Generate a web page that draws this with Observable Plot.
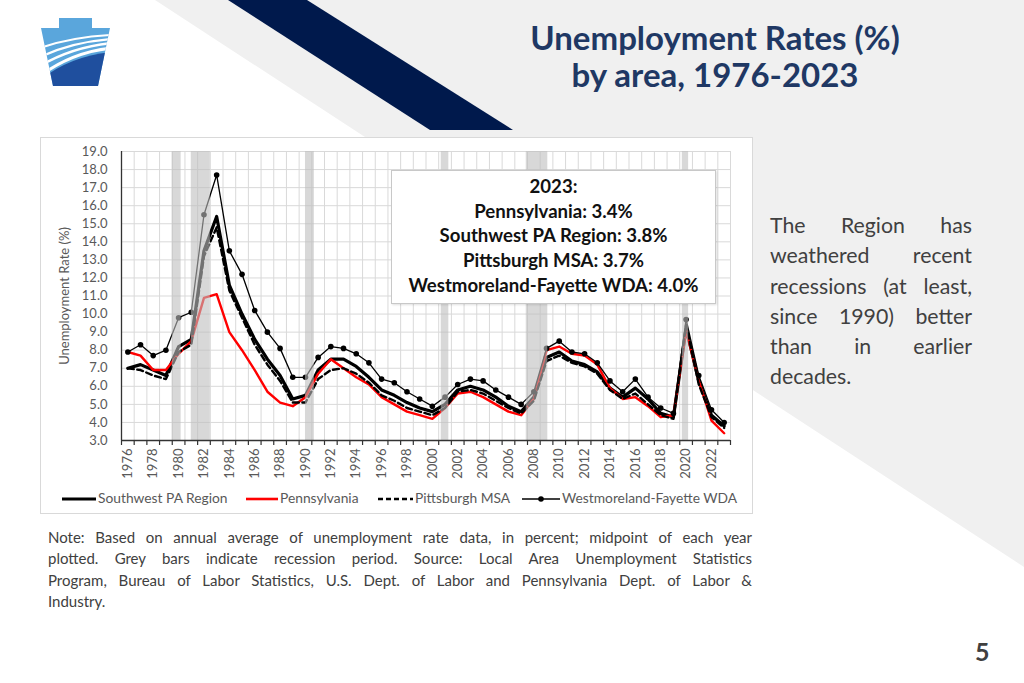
<!DOCTYPE html>
<html>
<head>
<meta charset="utf-8">
<script src="https://cdn.jsdelivr.net/npm/d3@7"></script>
<script src="https://cdn.jsdelivr.net/npm/@observablehq/plot@0.6"></script>
<style>
  html, body { margin: 0; padding: 0; }
  body { width: 1024px; height: 683px; position: relative; overflow: hidden; background: #fff; font-family: Lato, "Open Sans", sans-serif; }
  .abs { position: absolute; }
  #bg { left: 0; top: 0; }
  #title { left: 465px; width: 500px; top: 19px; text-align: center; color: #1f3864; font-weight: bold; font-size: 33px; line-height: 37px; }
  #box { left: 40px; top: 137px; width: 711px; height: 375px; background: #fff; border: 1px solid #d9d9d9; }
  #chart { left: 40px; top: 137px; }
  .jl { display: block; text-align: justify; text-align-last: justify; white-space: nowrap; }
  .ll { display: block; text-align: left; white-space: nowrap; }
  #side { left: 770px; top: 210px; width: 202px; font-size: 21.3px; line-height: 30.3px; color: #404040; }
  #note { left: 48px; top: 527px; width: 704px; font-size: 15px; line-height: 21.3px; color: #404040; }
  #pnum { left: 975px; top: 636px; font-size: 25px; font-weight: bold; color: #404040; }
  #anno { left: 391px; top: 170px; width: 325px; height: 134px; background: #fff; border: 1px solid #c8c8c8; box-shadow: 1px 1px 2px rgba(0,0,0,0.12); text-align: center; font-weight: bold; font-size: 18.6px; line-height: 24.7px; color: #111; padding-top: 3px; box-sizing: border-box; }
  .leg { position: absolute; top: 489px; font-size: 13.8px; color: #595959; height: 18px; line-height: 18px; white-space: nowrap; }
  .leg svg { vertical-align: middle; margin-right: 2px; position: relative; top: -1px; }
</style>
</head>
<body>
<svg id="bg" class="abs" width="1024" height="683">
  <polygon points="155,0 1024,0 1024,567" fill="#f0f0f0"/>
  <polygon points="228,0 307,0 513,130 430,130" fill="#00194c"/>
  <g id="logo">
    <defs>
      <clipPath id="ks">
        <path d="M59,18 L92,18 L92,28 L110,28 L98,86 L53,86 L41,28 L59,28 Z"/>
      </clipPath>
    </defs>
    <g clip-path="url(#ks)">
      <rect x="38" y="15" width="76" height="75" fill="#5aa6dc"/>
      <path d="M40,90 L40,80 Q70,56 112,52 L112,90 Z" fill="#1f4f9e"/>
      <path d="M40,76 Q72,52 112,48" stroke="#fff" stroke-width="3" fill="none"/>
      <path d="M40,66 Q72,47 112,43" stroke="#fff" stroke-width="2.6" fill="none"/>
      <path d="M40,57 Q72,42 112,39" stroke="#fff" stroke-width="2.3" fill="none"/>
      <path d="M40,48 Q72,37 112,35" stroke="#fff" stroke-width="2" fill="none"/>
    </g>
  </g>
</svg>

<div id="title" class="abs">Unemployment Rates (%)<br>by area, 1976-2023</div>
<div id="box" class="abs"></div>
<div id="chart" class="abs"></div>

<div id="anno" class="abs">
  <div>2023:</div>
  <div>Pennsylvania: 3.4%</div>
  <div>Southwest PA Region: 3.8%</div>
  <div>Pittsburgh MSA: 3.7%</div>
  <div>Westmoreland-Fayette WDA: 4.0%</div>
</div>

<div id="legend"></div>

<div id="side" class="abs">
  <span class="jl">The Region has</span>
  <span class="jl">weathered recent</span>
  <span class="jl">recessions (at least,</span>
  <span class="jl">since 1990) better</span>
  <span class="jl">than in earlier</span>
  <span class="ll">decades.</span>
</div>

<div id="note" class="abs">
  <span class="jl">Note: Based on annual average of unemployment rate data, in percent; midpoint of each year</span>
  <span class="jl">plotted. Grey bars indicate recession period. Source: Local Area Unemployment Statistics</span>
  <span class="jl">Program, Bureau of Labor Statistics, U.S. Dept. of Labor and Pennsylvania Dept. of Labor &amp;</span>
  <span class="ll">Industry.</span>
</div>

<div id="pnum" class="abs">5</div>

<script>
const years = [1976,1977,1978,1979,1980,1981,1982,1983,1984,1985,1986,1987,1988,1989,1990,1991,1992,1993,1994,1995,1996,1997,1998,1999,2000,2001,2002,2003,2004,2005,2006,2007,2008,2009,2010,2011,2012,2013,2014,2015,2016,2017,2018,2019,2020,2021,2022,2023];

const southwestPA = [7.0,7.2,6.9,6.6,8.2,8.6,13.5,15.4,11.6,10.0,8.6,7.5,6.6,5.3,5.5,6.9,7.5,7.5,7.1,6.5,5.8,5.5,5.1,4.8,4.6,5.0,5.8,6.0,5.8,5.4,4.9,4.6,5.4,7.6,7.9,7.4,7.2,6.8,5.9,5.4,5.9,5.3,4.5,4.3,9.2,6.3,4.4,3.8];
const pennsylvania = [7.9,7.7,6.9,6.9,7.8,8.5,10.9,11.1,9.0,8.0,6.9,5.7,5.1,4.9,5.4,6.7,7.5,7.0,6.5,6.1,5.4,5.0,4.6,4.4,4.2,4.8,5.6,5.7,5.4,5.0,4.6,4.4,5.3,8.0,8.2,7.8,7.7,7.2,5.9,5.3,5.4,4.9,4.3,4.4,9.1,6.3,4.1,3.4];
const pittsburghMSA = [7.0,6.9,6.6,6.4,7.9,8.3,13.2,14.8,11.3,9.8,8.3,7.2,6.3,5.1,5.1,6.4,6.9,7.0,6.7,6.2,5.5,5.2,4.8,4.6,4.4,4.8,5.7,5.8,5.6,5.2,4.8,4.5,5.2,7.4,7.7,7.3,7.1,6.7,5.8,5.3,5.6,5.0,4.4,4.2,9.4,6.1,4.3,3.7];
const westmorelandWDA = [7.9,8.3,7.7,8.0,9.8,10.1,15.5,17.7,13.5,12.2,10.2,9.0,8.1,6.5,6.5,7.6,8.2,8.1,7.8,7.3,6.4,6.2,5.7,5.3,4.9,5.4,6.1,6.4,6.3,5.8,5.4,5.0,5.7,8.1,8.5,7.9,7.8,7.3,6.3,5.7,6.4,5.4,4.8,4.5,9.7,6.6,4.7,4.0];

// recession periods as decimal dates
const recessionStart = [1980.0, 1981.5, 1990.5, 2001.2, 2007.9, 2020.2];
const recessionEnd   = [1980.7, 1983.0, 1991.2, 2001.8, 2009.6, 2020.7];

const yTicks = [3,4,5,6,7,8,9,10,11,12,13,14,15,16,17,18,19];
const xTickLabels = [1976,1978,1980,1982,1984,1986,1988,1990,1992,1994,1996,1998,2000,2002,2004,2006,2008,2010,2012,2014,2016,2018,2020,2022];

const seriesNames = ["Southwest PA Region", "Pennsylvania", "Pittsburgh MSA", "Westmoreland-Fayette WDA"];

const rows = (vals) => years.map((yr, i) => ({year: yr, value: vals[i]}));
const recessions = recessionStart.map((s, i) => ({x1: s - 0.5, x2: recessionEnd[i] - 0.5}));
const boundaries = years.map(y => y - 0.5).concat([years[years.length - 1] + 0.5]);

const plot = Plot.plot({
  width: 712,
  height: 350,
  marginLeft: 81,
  marginRight: 22,
  marginTop: 14,
  marginBottom: 47,
  style: {background: "transparent", fontFamily: "Lato, 'Open Sans', sans-serif", overflow: "visible"},
  x: {type: "linear", domain: [boundaries[0], boundaries[boundaries.length - 1]]},
  y: {domain: [3, 19]},
  marks: [
    Plot.gridY({ticks: yTicks, stroke: "#d9d9d9", strokeOpacity: 1, strokeWidth: 1}),
    Plot.gridX({ticks: boundaries, stroke: "#d9d9d9", strokeOpacity: 1, strokeWidth: 1}),
    Plot.line(rows(southwestPA), {x: "year", y: "value", stroke: "#000", strokeWidth: 3.2}),
    Plot.line(rows(pennsylvania), {x: "year", y: "value", stroke: "#ff0000", strokeWidth: 2.4}),
    Plot.line(rows(pittsburghMSA), {x: "year", y: "value", stroke: "#000", strokeWidth: 2.4, strokeDasharray: "6,3.5"}),
    Plot.line(rows(westmorelandWDA), {x: "year", y: "value", stroke: "#000", strokeWidth: 1.3}),
    Plot.dot(rows(westmorelandWDA), {x: "year", y: "value", fill: "#000", r: 2.8}),
    Plot.rect(recessions, {x1: "x1", x2: "x2", fill: "rgb(190,190,190)", fillOpacity: 0.6}),
    Plot.ruleY([3], {stroke: "#333", strokeWidth: 1.3}),
    Plot.ruleX([boundaries[0]], {stroke: "#333", strokeWidth: 1.3}),
    Plot.axisX({ticks: boundaries, tickSize: 5, tickFormat: () => "", stroke: "#333", strokeWidth: 1.2}),
    Plot.axisX({ticks: xTickLabels, tickSize: 0, tickPadding: 8, tickRotate: -90, tickFormat: d => String(d), fontSize: 13, fill: "#595959", label: null}),
    Plot.axisY({ticks: yTicks, tickSize: 0, tickPadding: 14, tickFormat: d3.format(".1f"), fontSize: 13, fill: "#595959",
      label: "Unemployment Rate (%)", labelAnchor: "center", labelArrow: "none", labelOffset: 62})
  ]
});
plot.style.fontSize = "13px";
document.getElementById("chart").appendChild(plot);

// legend
const legendItems = [
  {name: seriesNames[0], x: 62, w: 34, stroke: "#000", sw: 3.2, dash: null, dot: false},
  {name: seriesNames[1], x: 246, w: 32, stroke: "#ff0000", sw: 2.6, dash: null, dot: false},
  {name: seriesNames[2], x: 378, w: 35, stroke: "#000", sw: 2.4, dash: "5,3", dot: false},
  {name: seriesNames[3], x: 522, w: 38, stroke: "#000", sw: 1.3, dash: null, dot: true}
];
const leg = document.getElementById("legend");
legendItems.forEach(it => {
  const d = document.createElement("div");
  d.className = "leg";
  d.style.left = it.x + "px";
  d.innerHTML = `<svg width="${it.w}" height="8"><line x1="0" x2="${it.w}" y1="4" y2="4" stroke="${it.stroke}" stroke-width="${it.sw}" ${it.dash ? `stroke-dasharray="${it.dash}"` : ""}/>${it.dot ? `<circle cx="${it.w/2}" cy="4" r="2.8" fill="#000"/>` : ""}</svg>${it.name}`;
  leg.appendChild(d);
});
</script>
</body>
</html>
